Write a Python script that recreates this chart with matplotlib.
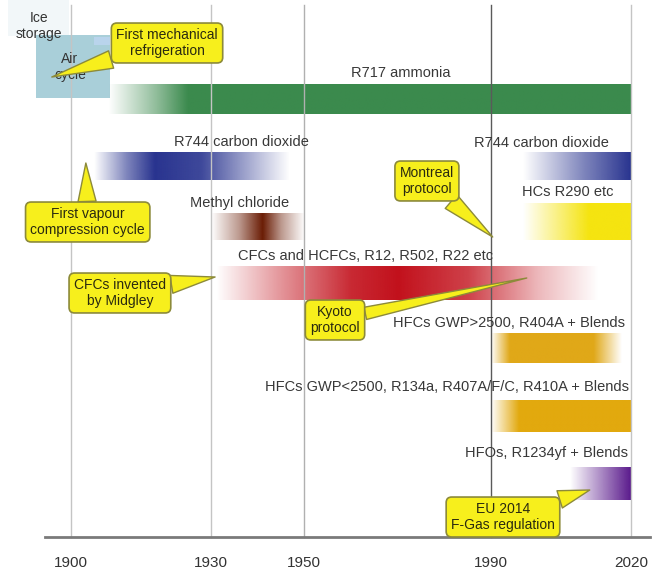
import numpy as np
import matplotlib
matplotlib.use("Agg")
import matplotlib.pyplot as plt
from matplotlib.colors import to_rgb

plt.rcParams['font.family'] = ['Liberation Sans Narrow', 'Liberation Sans', 'DejaVu Sans']

# ---- data ----
tick_years = [1900, 1930, 1950, 1990, 2020]
grid_colors = ['#c4c4c4', '#c4c4c4', '#b0b0b0', '#5a5a5a', '#c4c4c4']

names = ["R717 ammonia", "R744 carbon dioxide", "R744 carbon dioxide",
         "HCs R290 etc", "Methyl chloride",
         "CFCs and HCFCs, R12, R502, R22 etc",
         "HFCs GWP>2500, R404A + Blends",
         "HFCs GWP<2500, R134a, R407A/F/C, R410A + Blends",
         "HFOs, R1234yf + Blends"]
# intensity along each bar: (year, strength) stops
fade_years = [[1908, 1918, 1925, 2020],
              [1905, 1912, 1918, 1928, 1947],
              [1997, 2010, 2020],
              [1997, 2011, 2020],
              [1930, 1936, 1941, 1945, 1950],
              [1931, 1945, 1960, 1970, 1985, 2000, 2013],
              [1990, 1994, 2012, 2018],
              [1990, 1996, 2020],
              [2007, 2020]]
fade_vals = [[0, 0.55, 1, 1],
             [0, 0.6, 1, 0.9, 0],
             [0, 0.6, 1],
             [0, 1, 1],
             [0, 0.45, 1, 0.45, 0],
             [0, 0.45, 0.9, 1, 0.8, 0.3, 0],
             [0, 1, 1, 0],
             [0, 1, 1],
             [0, 1]]
label_years = [1970.7, 1936.6, 2000.9, 2006.5, 1936.2, 1963.2, 1993.9, 1980.6, 2002.0]

callouts = ["First mechanical\nrefrigeration", "First vapour\ncompression cycle",
            "CFCs invented\nby Midgley", "Kyoto\nprotocol",
            "Montreal\nprotocol", "EU 2014\nF-Gas regulation"]
callout_years = [1895.9, 1903.2, 1930.9, 1997.7, 1990.4, 2011.2]
callout_text_years = [1920.6, 1903.6, 1910.5, 1956.6, 1976.3, 1992.6]
callout_widths = [1.3, 1.3, 1.3, 0.9, 1.3, 1.3]

# ---- layout (vertical positions in pixel rows) ----
bar_rows = [(84, 114), (152, 180), (152, 180), (203, 240), (213, 240),
            (266, 300), (333, 363), (400, 432), (467, 500)]
label_rows = [73, 142, 143, 192, 203, 256, 323, 387, 453]
bar_colors = ['#3b8a4d', '#28338f', '#28338f', '#f5e410', '#6a1c04',
              '#c2101b', '#e0a818', '#e2a90e', '#5a1a8c']
callout_tip_rows = [77, 163, 277, 278, 237, 490]
callout_text_rows = [43, 222, 293, 320, 181, 517]

fig = plt.figure(figsize=(6.56, 5.74), dpi=100)
ax = fig.add_axes([0, 0, 1, 1])

# ice storage / air cycle boxes
ax.fill_between([1886.5, 1899.5], 0, 36, color='#f2f7f9', zorder=1, lw=0)
ax.fill_between([1892.5, 1908.4], 35, 98, color='#a9cfd9', zorder=1, lw=0)
ax.fill_between([1905.0, 1908.4], 37, 45, color='#b9d4ec', zorder=1, lw=0)
ax.text(1893.1, 26, "Ice\nstorage", ha='center', va='center', fontsize=10,
        color='#333333', linespacing=1.1, zorder=3)
ax.text(1899.8, 67, "Air\ncycle", ha='center', va='center', fontsize=10,
        color='#333333', linespacing=1.1, zorder=3)

# gradient bars
for name, fy, fv, ly, (top, bot), lrow, col in zip(
        names, fade_years, fade_vals, label_years, bar_rows, label_rows, bar_colors):
    xs = np.linspace(fy[0], fy[-1], 400)
    a = np.interp(xs, fy, fv)
    img = np.zeros((1, len(xs), 4))
    img[0, :, :3] = to_rgb(col)
    img[0, :, 3] = a
    ax.imshow(img, extent=(fy[0], fy[-1], bot, top), aspect='auto',
              interpolation='bilinear', zorder=2)
    ax.text(ly, lrow, name, ha='center', va='center', fontsize=10.5,
            color='#383838', zorder=3)

# vertical year lines
for yr, gc in zip(tick_years, grid_colors):
    ax.plot([yr, yr], [5, 537], color=gc, lw=1, zorder=2.5)

# time axis
ax.plot([1894.4, 2024.1], [537, 537], color='#7a7a7a', lw=2, zorder=3)
for yr in tick_years:
    ax.text(yr, 563, str(yr), ha='center', va='center', fontsize=11, color='#333333')

# callouts
for txt, tx, tr, px, pr, w in zip(callouts, callout_text_years, callout_text_rows,
                                  callout_years, callout_tip_rows, callout_widths):
    ax.annotate(txt, xy=(px, pr), xytext=(tx, tr), ha='center', va='center',
                fontsize=10, color='#2a2a10', linespacing=1.2, zorder=5,
                bbox=dict(boxstyle='round,pad=0.35,rounding_size=0.4',
                          fc='#f7ef1c', ec='#8c8a3a', lw=1.2),
                arrowprops=dict(arrowstyle=f'wedge,tail_width={w},shrink_factor=0.5',
                                fc='#f7ef1c', ec='#8c8a3a', lw=1.0,
                                shrinkA=0, shrinkB=0))

ax.set_xlim(1884.8, 2025.4)
ax.set_ylim(574, 0)
ax.axis('off')
fig.savefig("out.png", dpi=100)
